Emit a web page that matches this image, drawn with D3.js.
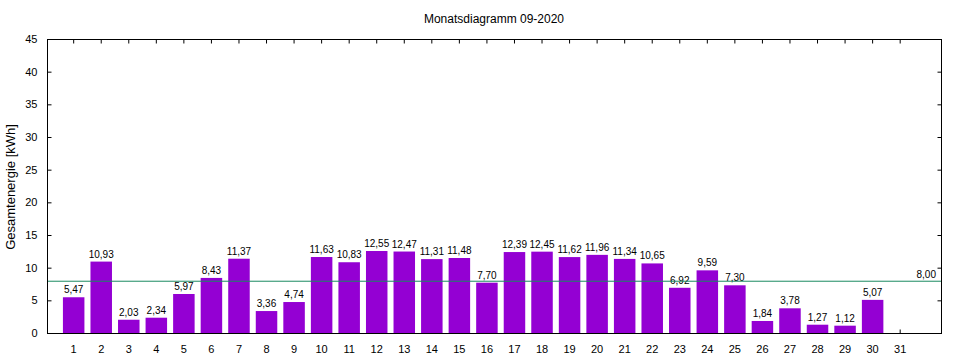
<!DOCTYPE html>
<html><head><meta charset="utf-8">
<script src="https://cdn.jsdelivr.net/npm/d3@7"></script>
<style>body{margin:0;background:#fff}svg{display:block}text{font-family:"Liberation Sans",Arial,sans-serif;fill:#000}</style>
</head><body><svg id="c" width="960" height="360"></svg>
<script>
const days = d3.range(1, 32);
const values = [5.47,10.93,2.03,2.34,5.97,8.43,11.37,3.36,4.74,11.63,10.83,12.55,12.47,11.31,11.48,7.70,12.39,12.45,11.62,11.96,11.34,10.65,6.92,9.59,7.30,1.84,3.78,1.27,1.12,5.07,null];
const yTicks = [0,5,10,15,20,25,30,35,40,45];
const average = 8.00;
const title = "Monatsdiagramm 09-2020";
const yLabel = "Gesamtenergie [kWh]";

const fmt = v => v.toFixed(2).replace(".", ",");
const svg = d3.select("#c");
const L = 47, R = 941, T = 39, B = 333;
const x = d3.scaleLinear().domain([0.05, 32.5]).range([L, R]);
const y = d3.scaleLinear().domain([0, 45]).range([B, T]);
const bw = 21.5;

svg.append("text").attr("x", 494).attr("y", 23).attr("text-anchor", "middle")
  .style("font-size", "12px").text(title);
svg.append("text").attr("transform", "translate(15,187) rotate(-90)").attr("text-anchor", "middle")
  .style("font-size", "13px").text(yLabel);

const data = days.map((d, i) => ({d, v: values[i]})).filter(o => o.v != null);

// axes (ticks inward)
const gL = svg.append("g").attr("transform", `translate(${L + 0.5},0)`)
  .call(d3.axisLeft(y).tickValues(yTicks).tickSize(-4).tickPadding(10));
const gR = svg.append("g").attr("transform", `translate(${R + 0.5},0)`)
  .call(d3.axisRight(y).tickValues(yTicks).tickSize(-4).tickFormat(""));
const gB = svg.append("g").attr("transform", `translate(0,${B + 0.5})`)
  .call(d3.axisBottom(x).tickValues(days).tickSize(-4).tickPadding(12).tickFormat(d3.format("d")));
const gT = svg.append("g").attr("transform", `translate(0,${T + 0.5})`)
  .call(d3.axisTop(x).tickValues(days).tickSize(-4).tickFormat(""));
[gL, gR, gB, gT].forEach(g => {
  g.select(".domain").remove();
  g.selectAll("text").style("font-size", "11px").attr("font-family", null);
});

svg.selectAll("rect.bar").data(data).join("rect").attr("class", "bar")
  .attr("x", o => x(o.d) - bw / 2 + 0.5).attr("width", bw)
  .attr("y", o => y(o.v)).attr("height", o => B - y(o.v))
  .attr("fill", "#9400d3");

svg.selectAll("text.val").data(data).join("text").attr("class", "val")
  .attr("x", o => x(o.d) + 0.5).attr("y", o => y(o.v) - 4).attr("text-anchor", "middle")
  .style("font-size", "10px").text(o => fmt(o.v));

svg.append("line").attr("x1", L).attr("x2", R).attr("y1", y(average) + 0.5).attr("y2", y(average) + 0.5)
  .attr("stroke", "#1a8a60").attr("stroke-width", 1);

svg.append("text").attr("x", 936).attr("y", 278).attr("text-anchor", "end")
  .style("font-size", "10px").text(fmt(average));

// frame
svg.append("rect").attr("x", L + 0.5).attr("y", T + 0.5).attr("width", R - L).attr("height", B - T)
  .attr("fill", "none").attr("stroke", "#000");
</script></body></html>
